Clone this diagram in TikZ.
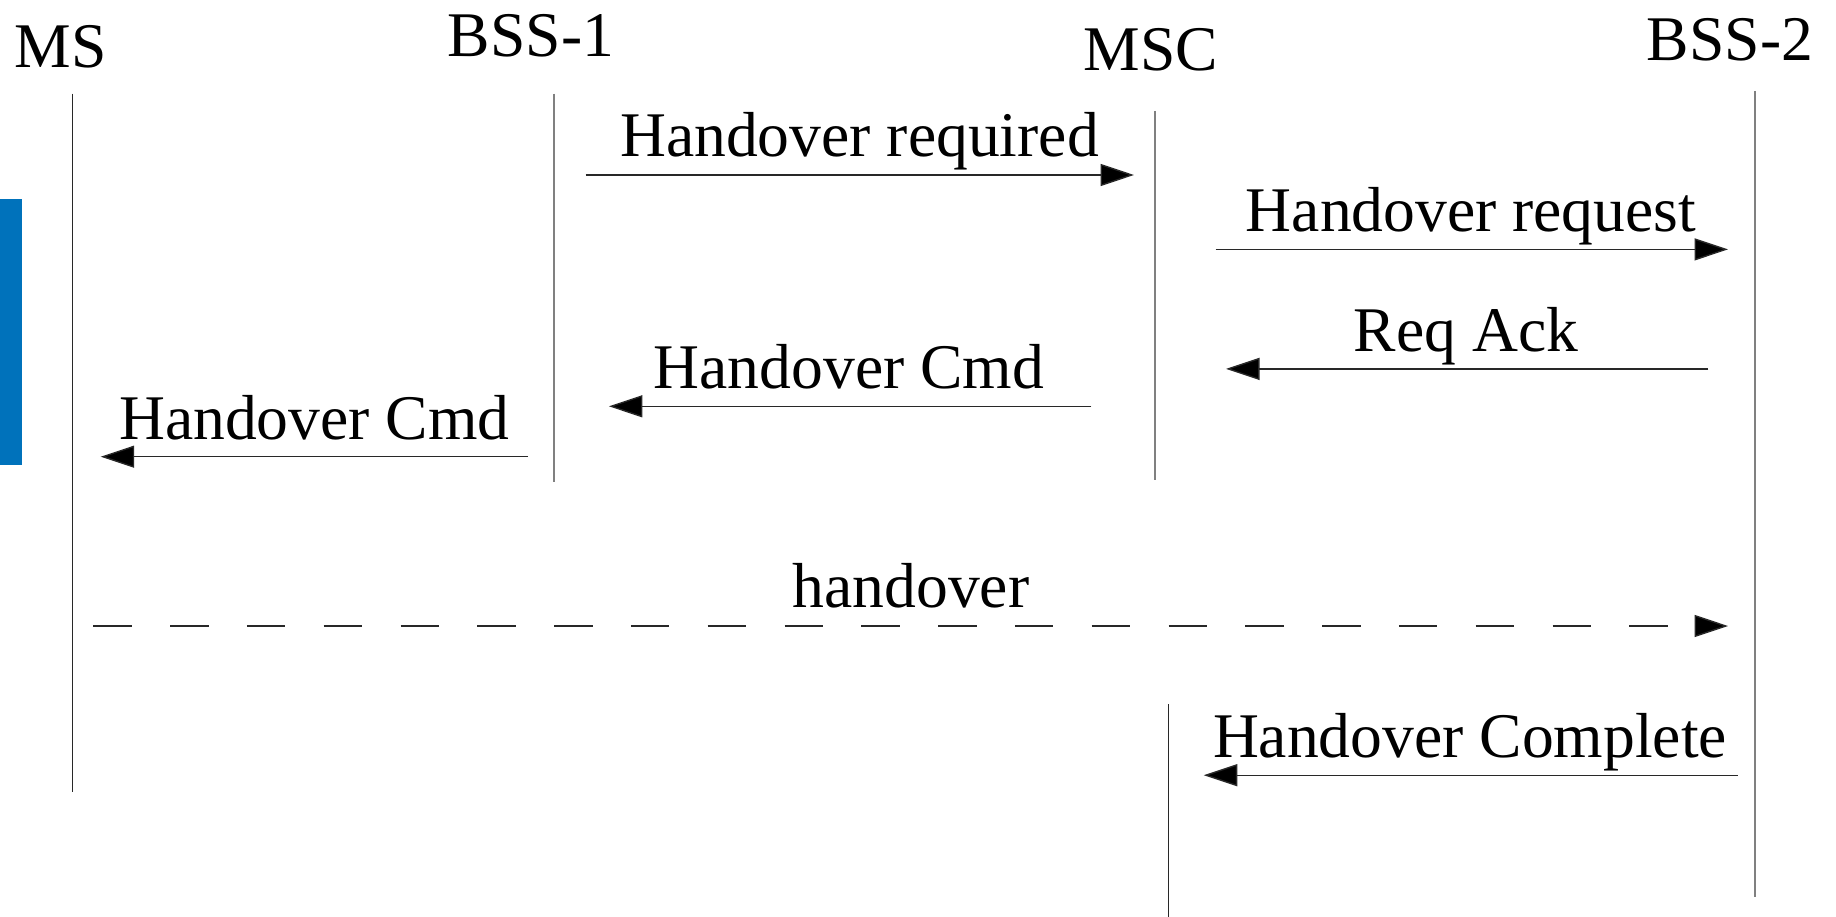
\documentclass[tikz,border=0pt]{standalone}
\usepackage{fontspec}
\setmainfont{Liberation Serif}
\usetikzlibrary{arrows.meta}
\definecolor{barblue}{RGB}{0,114,187}
\definecolor{lifegray}{RGB}{128,128,128}
\definecolor{darkline}{RGB}{40,40,40}
\tikzset{
  lbl/.style={anchor=base, inner sep=0pt, font=\fontsize{63.6}{70}\selectfont},
  msg/.style={draw=darkline, line width=1.4pt, -{Triangle[length=33.5pt,width=22pt,fill=black]}},
  msgdash/.style={msg, dash pattern=on 38.4pt off 38.4pt},
  lifelt/.style={draw=lifegray, line width=1.6pt},
  lifedk/.style={draw=darkline, line width=1.3pt},
}
\begin{document}
\begin{tikzpicture}[x=1pt,y=-1pt]
\useasboundingbox (0,0) rectangle (1836,917);
% blue bar
\fill[barblue] (0,199) rectangle (21.7,465);
% headers
\node[lbl] (ms) at (60.9,67.9) {MS};
\node[lbl] (bss1) at (531,56.2) {BSS-1};
\node[lbl] (msc) at (1151,70.3) {MSC};
\node[lbl] (bss2) at (1730,60.9) {BSS-2};
% lifelines
\coordinate (msT) at (72.7,93.7);  \coordinate (msB) at (72.7,791.5);
\coordinate (b1T) at (553.8,93.7); \coordinate (b1B) at (553.8,482.4);
\coordinate (mcT) at (1155,111);   \coordinate (mcB) at (1155,480);
\coordinate (mc2T) at (1168.3,704); \coordinate (mc2B) at (1168.3,917);
\coordinate (b2T) at (1755,91);    \coordinate (b2B) at (1755,897);
\draw[lifedk] (msT) -- (msB);
\draw[lifelt] (b1T) -- (b1B);
\draw[lifelt] (mcT) -- (mcB);
\draw[lifedk] (mc2T) -- (mc2B);
\draw[lifelt] (b2T) -- (b2B);
% message end points
\coordinate (m1s) at (585.5,175);   \coordinate (m1e) at (1134,175);
\coordinate (m2s) at (1215.5,249.4); \coordinate (m2e) at (1728,249.4);
\coordinate (m3s) at (1708.4,368.9); \coordinate (m3e) at (1226,368.9);
\coordinate (m4s) at (1091.4,406.3); \coordinate (m4e) at (608.9,406.3);
\coordinate (m5s) at (528.1,456.7);  \coordinate (m5e) at (100.7,456.7);
\coordinate (m6s) at (93.3,626);     \coordinate (m6e) at (1728,626);
\coordinate (m7s) at (1737.7,775.2); \coordinate (m7e) at (1203.8,775.2);
\draw[msg] (m1s) -- (m1e);
\draw[msg] (m2s) -- (m2e);
\draw[msg] (m3s) -- (m3e);
\draw[msg] (m4s) -- (m4e);
\draw[msg] (m5s) -- (m5e);
\draw[msgdash] (m6s) -- (m6e);
\draw[msg] (m7s) -- (m7e);
% labels
\node[lbl] (l1) at (859.5,156.7) {Handover required};
\node[lbl] (l2) at (1471,231.8) {Handover request};
\node[lbl] (l3) at (1466,351.3) {Req Ack};
\node[lbl] (l4) at (849,388.7) {Handover Cmd};
\node[lbl] (l5) at (314.4,439.1) {Handover Cmd};
\node[lbl] (l6) at (911,607.7) {handover};
\node[lbl] (l7) at (1470,757.6) {Handover Complete};
\end{tikzpicture}
\end{document}
